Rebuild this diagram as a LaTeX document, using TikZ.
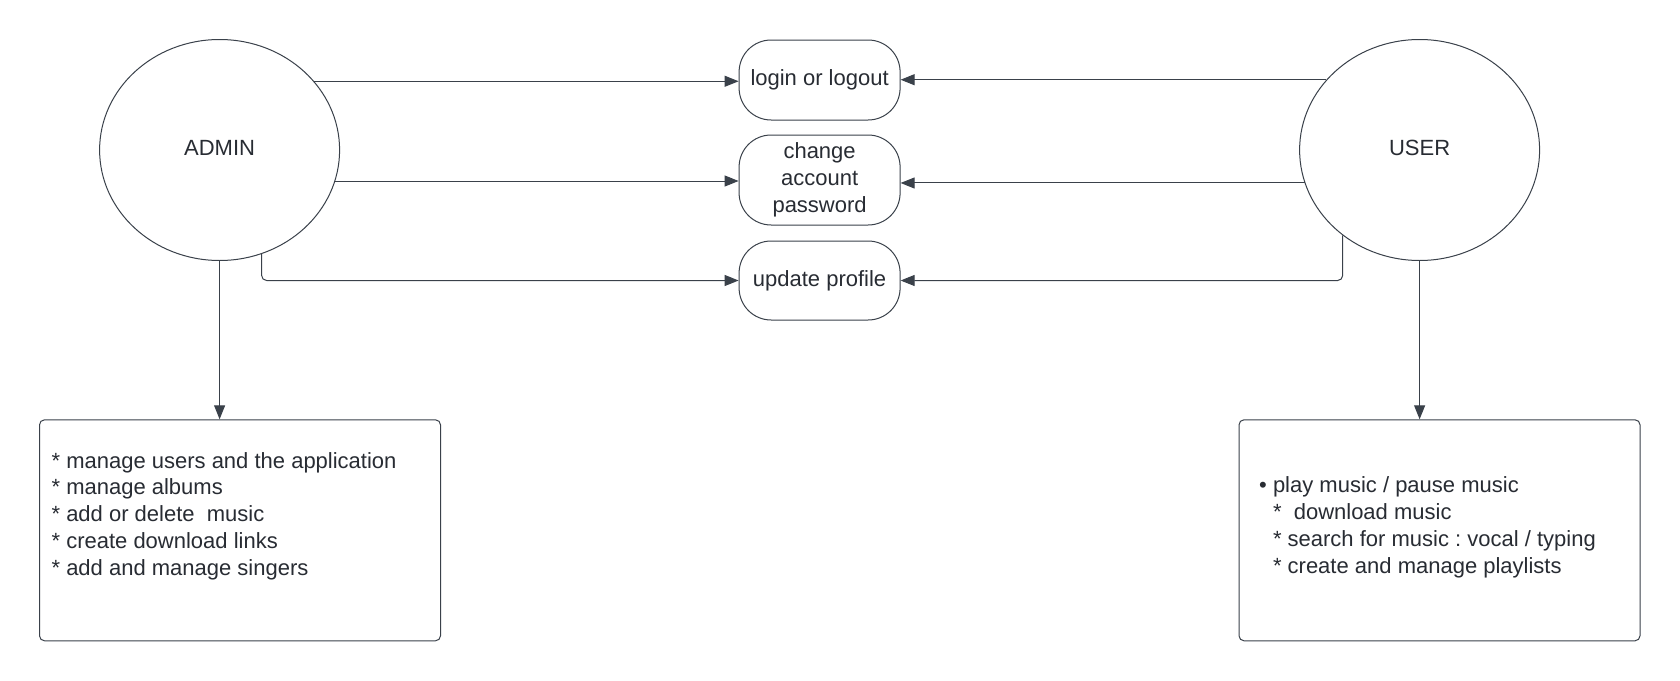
\documentclass[tikz,border=0pt]{standalone}
\usepackage{fontspec}
\setmainfont{Liberation Sans}
\usetikzlibrary{shapes.geometric,arrows.meta}
\definecolor{ln}{HTML}{3A414A}
\definecolor{tx}{HTML}{282C33}
\frenchspacing
\begin{document}
\begin{tikzpicture}[x=1pt,y=-1pt,
 every node/.style={font=\fontsize{22}{26.8}\selectfont, text=tx},
 actor/.style={draw=ln, line width=1pt, ellipse, minimum width=240pt, minimum height=221pt, inner sep=0pt},
 usecase/.style={draw=ln, line width=1pt, rounded corners=32pt, minimum width=161pt, align=center, inner sep=0pt},
 listbox/.style={draw=ln, line width=1pt, rounded corners=5pt, minimum width=401pt, minimum height=221pt, inner sep=0pt},
 listtext/.style={anchor=west, align=left, inner sep=0pt},
 conn/.style={draw=ln, line width=1pt, -{Triangle[length=14pt,width=11pt]}, rounded corners=5pt},
 ]
\fill[white] (0,0) rectangle (1680,680);
\useasboundingbox (0,0) rectangle (1680,680);
\node[actor] (admin) at (219.6,150) {\raisebox{2.5pt}[\height][\depth]{ADMIN}};
\node[actor] (user) at (1419.6,150) {\raisebox{2.5pt}[\height][\depth]{USER}};
\node[usecase, minimum height=80pt] (login) at (819.6,80) {login or logout};
\node[usecase, minimum height=90pt] (change) at (819.6,180) {change\\account\\password};
\node[usecase, minimum height=79pt] (update) at (819.6,280.5) {update profile};
\node[listbox] (abox) at (240,530.3) {};
\node[listbox] (ubox) at (1439.5,530.3) {};
\node[listtext] (atext) at (51.4,516) {* manage users and the application\\* manage albums\\* add or delete\ \ music\\* create download links\\* add and manage singers};
\node[listtext] (utext) at (1259,527.5) {• play music / pause music\\\phantom{• }*\ \ download music\\\phantom{• }* search for music : vocal / typing\\\phantom{• }* create and manage playlists};
\draw[conn] (admin.36.7) -- (admin.36.7 -| login.west);
\draw[conn] (admin.-15.1) -- (admin.-15.1 -| change.west);
\draw[conn] (admin.-68.5) |- (update.west);
\draw[conn] (user.143.3) -- (user.143.3 -| login.east);
\draw[conn] (user.-164.9) -- (user.-164.9 -| change.east);
\draw[conn] (user.-132.3) |- (update.east);
\draw[conn] (admin.south) -- (admin.south |- abox.north);
\draw[conn] (user.south) -- (user.south |- ubox.north);
\end{tikzpicture}
\end{document}
